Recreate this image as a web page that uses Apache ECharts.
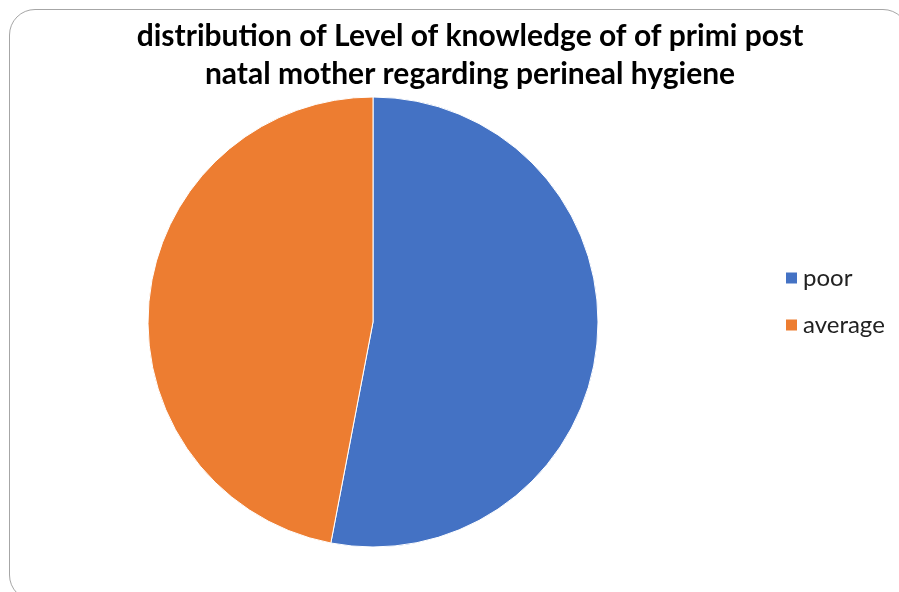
<!DOCTYPE html>
<html>
<head>
<meta charset="utf-8">
<script src="https://cdn.jsdelivr.net/npm/echarts@6/dist/echarts.min.js"></script>
<style>
  html, body { margin: 0; padding: 0; background: #fff; overflow: hidden; }
  #frame {
    position: absolute; left: 9px; top: 9px; width: 900px; height: 592px;
    border: 1.5px solid #a6a6a6; border-radius: 26px; box-sizing: border-box;
  }
  #chart { position: absolute; left: 0; top: 0; width: 899px; height: 592px; }
</style>
</head>
<body>
<div id="frame"></div>
<div id="chart"></div>
<script>
// data
var categories = ['poor', 'average'];
var values = [53, 47];
var colors = ['#4472C4', '#ED7D31'];

var chart = echarts.init(document.getElementById('chart'));

var pieData = [];
for (var i = 0; i < categories.length; i++) {
  pieData.push({ name: categories[i], value: values[i], itemStyle: { color: colors[i] } });
}

var option = {
  backgroundColor: 'transparent',
  animation: false,
  title: {
    text: 'distribution of Level of knowledge of of primi post\nnatal mother regarding perineal hygiene',
    left: 465,
    top: 12,
    textAlign: 'center',
    textStyle: {
      fontFamily: 'Lato',
      fontWeight: 'bold',
      fontSize: 30,
      lineHeight: 38,
      color: '#000'
    }
  },
  legend: {
    orient: 'vertical',
    left: 779,
    top: 261,
    icon: 'rect',
    itemWidth: 13,
    itemHeight: 13,
    itemGap: 23,
    data: categories,
    textStyle: {
      fontFamily: 'Lato',
      fontSize: 24,
      color: '#222',
      padding: [0, 0, 0, 0]
    }
  },
  series: [{
    type: 'pie',
    center: [373, 322],
    radius: 225,
    startAngle: 90,
    clockwise: true,
    label: { show: false },
    labelLine: { show: false },
    itemStyle: { borderColor: '#fff', borderWidth: 1 },
    emphasis: { disabled: true },
    data: pieData
  }]
};

chart.setOption(option);
</script>
</body>
</html>
